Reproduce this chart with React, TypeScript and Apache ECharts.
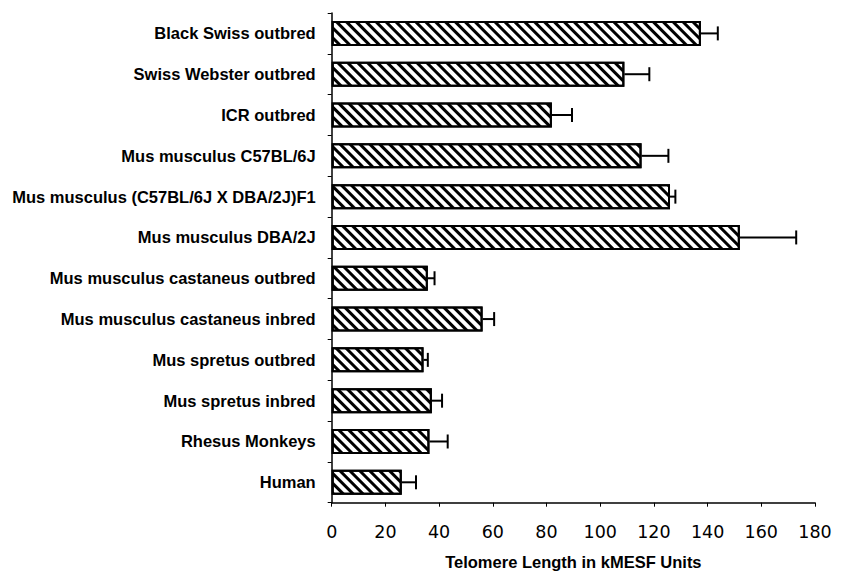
import React, { useEffect, useRef } from "react";
import * as echarts from "echarts";

const categories = [
  "Black Swiss outbred",
  "Swiss Webster outbred",
  "ICR outbred",
  "Mus musculus C57BL/6J",
  "Mus musculus (C57BL/6J X DBA/2J)F1",
  "Mus musculus DBA/2J",
  "Mus musculus castaneus outbred",
  "Mus musculus castaneus inbred",
  "Mus spretus outbred",
  "Mus spretus inbred",
  "Rhesus Monkeys",
  "Human",
];
const values = [137.5, 109, 82, 115.4, 126, 152, 35.8, 56.2, 34.2, 37.3, 36.4, 26.1];
const errors = [6.3, 9.3, 7.5, 10, 2, 21, 2.5, 4.3, 1.6, 3.8, 6.8, 5.3];
const xTicks = { min: 0, max: 180, interval: 20 };
const xTitle = "Telomere Length in kMESF Units";

export default function App() {
  const ref = useRef<HTMLDivElement>(null);
  useEffect(() => {
    if (!ref.current) return;
    const chart = echarts.init(ref.current, null, { renderer: "svg" });
    const errData = categories.map((c, i) => [i, values[i], errors[i]]);
    chart.setOption({
      animation: false,
      backgroundColor: "#ffffff",
      grid: {
        left: 331.7,
        right: 27,
        top: 13,
        bottom: 70.3,
        containLabel: false,
        outerBoundsMode: "none",
      },
      xAxis: {
        type: "value",
        min: xTicks.min,
        max: xTicks.max,
        interval: xTicks.interval,
        name: xTitle,
        nameLocation: "middle",
        nameGap: 51,
        nameTextStyle: {
          fontFamily: "Liberation Sans",
          fontWeight: "bold",
          fontSize: 16.5,
          color: "#000",
        },
        axisLine: { show: true, lineStyle: { color: "#000", width: 1.5 } },
        axisTick: { show: true, length: 4, lineStyle: { color: "#000", width: 1 } },
        axisLabel: {
          margin: 20,
          fontFamily: "DejaVu Sans",
          fontSize: 17.5,
          color: "#000",
        },
        splitLine: { show: false },
      },
      yAxis: {
        type: "category",
        data: categories,
        inverse: true,
        axisLine: { show: true, lineStyle: { color: "#000", width: 1.5 } },
        axisTick: { show: true, length: 4, lineStyle: { color: "#000", width: 1 } },
        axisLabel: {
          margin: 16,
          fontFamily: "Liberation Sans",
          fontWeight: "bold",
          fontSize: 16.5,
          color: "#000",
        },
      },
      series: [
        {
          type: "bar",
          data: values,
          barWidth: 25,
          itemStyle: {
            color: "#ffffff",
            borderColor: "#000",
            borderWidth: 2,
            decal: {
              symbol: "rect",
              symbolSize: 1,
              color: "#000",
              dashArrayX: [1, 0],
              dashArrayY: [2.2, 3.3],
              rotation: Math.PI / 4,
            },
          },
        },
        {
          type: "custom",
          data: errData,
          encode: { x: 1, y: 0 },
          z: 3,
          renderItem: (params: any, api: any) => {
            const idx = api.value(0);
            const v = api.value(1);
            const e = api.value(2);
            const s = api.coord([v, idx]);
            const t = api.coord([v + e, idx]);
            const h = 7;
            return {
              type: "group",
              children: [
                {
                  type: "line",
                  shape: { x1: s[0], y1: s[1], x2: t[0], y2: t[1] },
                  style: { stroke: "#000", lineWidth: 2 },
                },
                {
                  type: "line",
                  shape: { x1: t[0], y1: t[1] - h, x2: t[0], y2: t[1] + h },
                  style: { stroke: "#000", lineWidth: 2 },
                },
              ],
            };
          },
        },
      ],
    });
    return () => chart.dispose();
  }, []);
  return (
    <div
      ref={ref}
      style={{ position: "fixed", left: 0, top: 0, width: 842, height: 573, background: "#fff" }}
    />
  );
}
